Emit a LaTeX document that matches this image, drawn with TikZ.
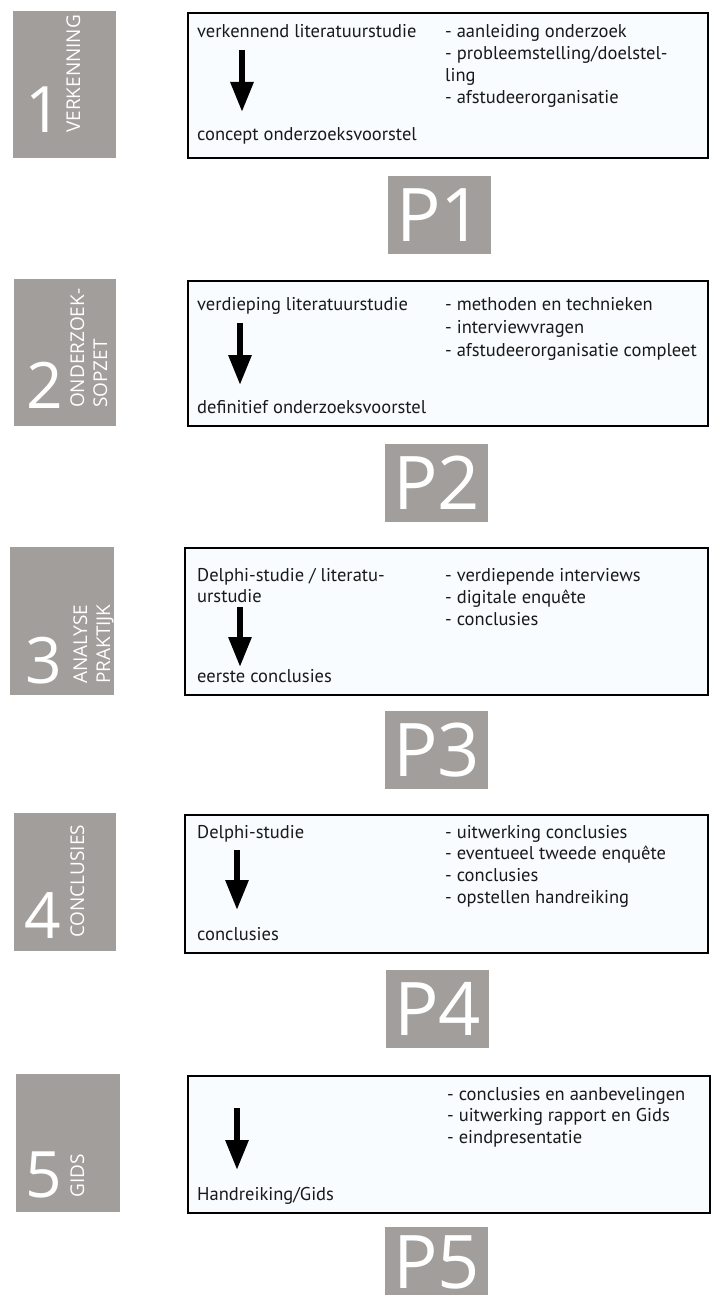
\documentclass[tikz,border=0pt]{standalone}
\usepackage{fontspec}
\setmainfont{PT Sans}
\newfontfamily\labfont{Open Sans}
\usetikzlibrary{arrows.meta}
\definecolor{pgray}{RGB}{162,158,155}
\definecolor{pbox}{RGB}{248,252,254}
\definecolor{ink}{RGB}{25,25,25}
\tikzset{
  graybox/.style={rectangle, fill=pgray, draw=none, inner sep=0pt, anchor=north west},
  phase/.style={rectangle, draw=black, line width=1.6pt, fill=pbox, inner sep=0pt, anchor=north west},
  pnode/.style={rectangle, fill=pgray, draw=none, inner sep=0pt, anchor=north west,
    minimum width=103pt, minimum height=78pt, text=white, font=\labfont\fontsize{74}{74}\selectfont},
  ptext/.style={inner sep=0pt, text=white, font=\labfont\fontsize{74}{74}\selectfont},
  txt/.style={anchor=base west, inner sep=0pt, text=ink, font=\fontsize{18.5}{22}\selectfont},
  digit/.style={anchor=base east, inner sep=0pt, text=white, font=\labfont\fontsize{64}{64}\selectfont},
  vlab/.style={anchor=base west, rotate=90, inner sep=0pt, text=white, font=\labfont\fontsize{19}{19}\selectfont},
  flow/.style={-{Triangle[width=22pt,length=30pt]}, line width=6pt, draw=black}
}
\begin{document}
\begin{tikzpicture}[x=1pt,y=-1pt]
\useasboundingbox (0,0) rectangle (712,1295);
\fill[white] (0,0) rectangle (712,1295);

% ---------- Section 1 ----------
\node[graybox, minimum width=103pt, minimum height=147pt] (g1) at (13,11) {};
\node[digit] (d1) at (62,132) {1};
\node[vlab] (v1) at (80,133) {VERKENNING};
\node[phase, minimum width=520pt, minimum height=145pt] (b1) at (187,12) {};
\node[txt] (t1) at (197,38) {verkennend literatuurstudie};
\foreach \t [count=\i] in {- aanleiding onderzoek, - probleemstelling/doelstel-, ling, - afstudeerorganisatie}
  \node[txt] (r1-\i) at (445,{38+22*(\i-1)}) {\t};
\node[txt] (e1) at (197,140) {concept onderzoeksvoorstel};
\coordinate (a1s) at (242,50); \coordinate (a1e) at (242,112);
\draw[flow] (a1s) -- (a1e);
\node[pnode] (p1) at (388,176) {P1};

% ---------- Section 2 ----------
\node[graybox, minimum width=102pt, minimum height=147pt] (g2) at (14,279) {};
\node[digit] (d2) at (63,408) {2};
\node[vlab] (v2a) at (84,408) {ONDERZOEK-};
\node[vlab] (v2b) at (107,408) {SOPZET};
\node[phase, minimum width=520pt, minimum height=145pt] (b2) at (187,280) {};
\node[txt] (t2) at (197,310) {verdieping literatuurstudie};
\foreach \t [count=\i] in {- methoden en technieken, - interviewvragen, - afstudeerorganisatie compleet}
  \node[txt] (r2-\i) at (445,{310+23*(\i-1)}) {\t};
\node[txt] (e2) at (197,413) {definitief onderzoeksvoorstel};
\coordinate (a2s) at (240,323); \coordinate (a2e) at (240,385);
\draw[flow] (a2s) -- (a2e);
\node[pnode] (p2) at (385,444) {P2};

% ---------- Section 3 ----------
\node[graybox, minimum width=104pt, minimum height=148pt] (g3) at (10,547) {};
\node[digit] (d3) at (62,683) {3};
\node[vlab] (v3a) at (87,684) {ANALYSE};
\node[vlab] (v3b) at (110,684) {PRAKTIJK};
\node[phase, minimum width=523pt, minimum height=147pt] (b3) at (184,547) {};
\node[txt] (t3a) at (197,581) {Delphi-studie / literatu-};
\node[txt] (t3b) at (197,602) {urstudie};
\foreach \t [count=\i] in {- verdiepende interviews, - digitale enqu\^ete, - conclusies}
  \node[txt] (r3-\i) at (445,{581+22*(\i-1)}) {\t};
\node[txt] (e3) at (197,682) {eerste conclusies};
\coordinate (a3s) at (240,607); \coordinate (a3e) at (240,667);
\draw[flow] (a3s) -- (a3e);
\node[pnode] (p3) at (385,711) {P3};

% ---------- Section 4 ----------
\node[graybox, minimum width=102pt, minimum height=138pt] (g4) at (14,813) {};
\node[digit] (d4) at (61,938) {4};
\node[vlab] (v4) at (84,938) {CONCLUSIES};
\node[phase, minimum width=523pt, minimum height=138pt] (b4) at (184,814) {};
\node[txt] (t4) at (197,838) {Delphi-studie};
\foreach \t [count=\i] in {- uitwerking conclusies, - eventueel tweede enqu\^ete, - conclusies, - opstellen handreiking}
  \node[txt] (r4-\i) at (445,{838+21.7*(\i-1)}) {\t};
\node[txt] (e4) at (197,940) {conclusies};
\coordinate (a4s) at (237,850); \coordinate (a4e) at (237,910);
\draw[flow] (a4s) -- (a4e);
\node[pnode] (p4) at (386,970) {P4};

% ---------- Section 5 ----------
\node[graybox, minimum width=104pt, minimum height=138pt] (g5) at (16,1074) {};
\node[digit] (d5) at (62,1197) {5};
\node[vlab] (v5) at (84,1198) {GIDS};
\node[phase, minimum width=522pt, minimum height=137pt] (b5) at (187,1075) {};
\foreach \t [count=\i] in {- conclusies en aanbevelingen, - uitwerking rapport en Gids, - eindpresentatie}
  \node[txt] (r5-\i) at (447,{1100+21.5*(\i-1)}) {\t};
\node[txt] (e5) at (197,1200) {Handreiking/Gids};
\coordinate (a5s) at (237,1108); \coordinate (a5e) at (237,1170);
\draw[flow] (a5s) -- (a5e);
\node[graybox, minimum width=103pt, minimum height=68pt] (p5bg) at (385,1227) {};
\node[ptext] (p5) at (436.5,1262) {P5};
\end{tikzpicture}
\end{document}
